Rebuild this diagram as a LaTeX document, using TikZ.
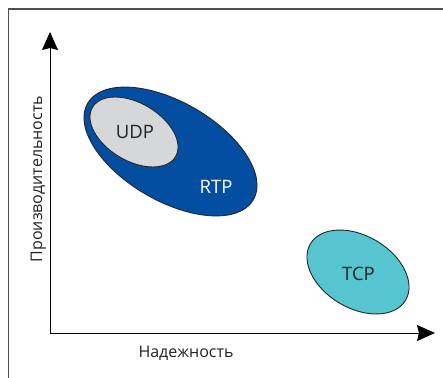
\documentclass[tikz,border=0pt]{standalone}
\usepackage{fontspec}
\setmainfont{Open Sans}
\usetikzlibrary{arrows.meta,shapes.geometric}
\definecolor{rtpblue}{RGB}{4,78,161}
\definecolor{udpgray}{RGB}{214,215,217}
\definecolor{tcpcyan}{RGB}{86,197,207}
\definecolor{framegray}{RGB}{80,80,80}
\definecolor{txtdark}{RGB}{35,35,35}
\tikzset{
  blob/.style={ellipse, draw=black!85, line width=0.9pt, inner sep=0pt},
  axis/.style={line width=1pt, -{Stealth[length=18pt,width=16pt,inset=2pt]}},
  axlabel/.style={font=\fontsize{16}{16}\selectfont, text=txtdark, inner sep=0pt},
  proto/.style={font=\fontsize{18.5}{18.5}\selectfont, inner sep=0pt, anchor=base},
}
\begin{document}
\begin{tikzpicture}[x=1pt,y=-1pt]
\useasboundingbox (0,0) rectangle (443,377);
\fill[white] (0,0) rectangle (443,377);
% frame
\coordinate (fbl) at (8.5,380);
\coordinate (ftl) at (8.5,9);
\coordinate (ftr) at (446,9);
\draw[framegray, line width=1.1pt] (fbl) -- (ftl) -- (ftr);
% axes
\coordinate (origin) at (50,333);
\coordinate (ytip) at (50,32);
\coordinate (xtip) at (435,333);
\draw[axis] (origin) -- (ytip);
\draw[axis] (origin) -- (xtip);
% ellipses
\node[blob, fill=rtpblue, minimum width=191.8pt, minimum height=98.8pt, rotate=-30.2] (rtp) at (170.5,151.5) {};
\node[blob, fill=udpgray, minimum width=96.6pt, minimum height=57.6pt, rotate=-30.8] (udp) at (134,132) {};
\node[blob, fill=tcpcyan, minimum width=110.6pt, minimum height=72.4pt, rotate=-30.6] (tcp) at (358,272) {};
% labels
\node[proto, text=txtdark] (udpl) at (135,138) {UDP};
\node[proto, text=white] (rtpl) at (216,193) {RTP};
\node[proto, text=txtdark] (tcpl) at (358.5,280) {TCP};
\node[axlabel, anchor=base] (xl) at (186,357) {Надежность};
\node[axlabel, anchor=base, rotate=90] (yl) at (42,179) {Производительность};
\end{tikzpicture}
\end{document}
